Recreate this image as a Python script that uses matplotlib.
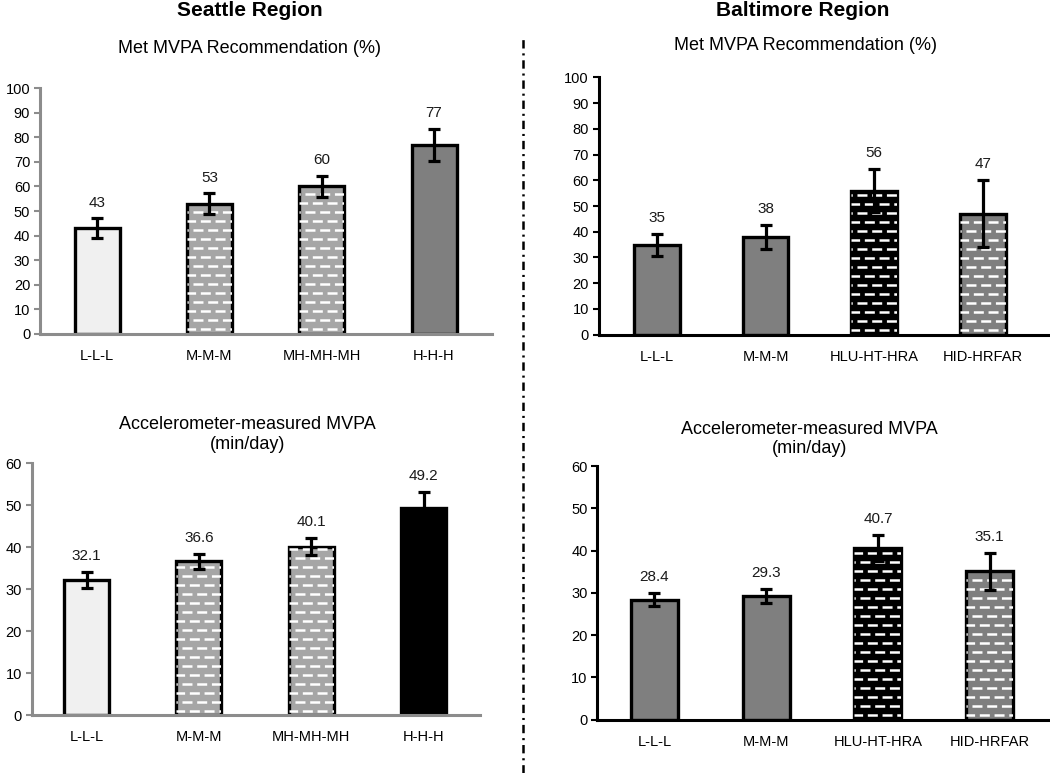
import matplotlib
matplotlib.use("Agg")
import matplotlib.pyplot as plt
import numpy as np

plt.rcParams['font.family'] = ['Liberation Sans', 'DejaVu Sans']
plt.rcParams['lines.scale_dashes'] = False

seattle_cats = ['L-L-L', 'M-M-M', 'MH-MH-MH', 'H-H-H']
balt_cats = ['L-L-L', 'M-M-M', 'HLU-HT-HRA', 'HID-HRFAR']

seattle_met = [43, 53, 60, 77]
seattle_met_err = [4, 4.2, 4.3, 6.5]
balt_met = [35, 38, 56, 47]
balt_met_err = [4.3, 4.7, 8.5, 13]

seattle_acc = [32.1, 36.6, 40.1, 49.2]
seattle_acc_err = [1.9, 1.8, 2.1, 4.0]
balt_acc = [28.4, 29.3, 40.7, 35.1]
balt_acc_err = [1.5, 1.6, 3.1, 4.4]

LIGHT, MID, DARK, BLACK = '#f0f0f0', '#a6a6a6', '#7f7f7f', '#000000'


def dashes(ax, bar, ymax):
    # brick-like white dash pattern clipped to the bar, rows ~9 px apart
    dy = 9.0 * ymax / ax.bbox.height
    x0, w = bar.get_x(), bar.get_width()
    h = bar.get_height()
    ys = np.arange(dy * 0.5, h, dy)
    for i, yy in enumerate(ys):
        off = 1.0 if i % 2 == 0 else 6.3
        ln, = ax.plot([x0, x0 + w], [yy, yy], color='white', lw=1.8,
                      linestyle=(off, (7.2, 3.4)), solid_capstyle='butt',
                      dash_capstyle='butt', zorder=3)
        ln.set_clip_path(bar)


def panel(rect, cats, vals, errs, fills, patterned, ymax, xlim, width,
          spine_col, value_fmt):
    ax = fig.add_axes(rect)
    x = np.arange(len(cats))
    bars = ax.bar(x, vals, width=width, color=fills, edgecolor='black',
                  linewidth=2.4, zorder=2)
    ax.set_xlim(*xlim)
    ax.set_ylim(0, ymax)
    for b, p in zip(bars, patterned):
        if p:
            dashes(ax, b, ymax)
    ax.errorbar(x, vals, yerr=errs, fmt='none', ecolor='black', elinewidth=2.3,
                capsize=4.5, capthick=2.3, zorder=4)
    for xi, v, e in zip(x, vals, errs):
        ax.text(xi, v + e + ymax * 0.035, value_fmt.format(v), ha='center',
                va='bottom', fontsize=11, color='#1a1a1a')
    ax.set_yticks(np.arange(0, ymax + 1, 10))
    ax.set_xticks(x)
    ax.set_xticklabels(cats, fontsize=10.5)
    ax.tick_params(axis='x', length=0, pad=11)
    ax.tick_params(axis='y', labelsize=10.5, length=4, width=1.5, color=spine_col,
                   pad=3)
    for s in ['top', 'right']:
        ax.spines[s].set_visible(False)
    for s in ['left', 'bottom']:
        ax.spines[s].set_color(spine_col)
        ax.spines[s].set_linewidth(2.2)
    return ax


fig = plt.figure(figsize=(10.5, 7.73), dpi=100)

panel([0.038, 0.568, 0.431, 0.318], seattle_cats, seattle_met, seattle_met_err,
      [LIGHT, MID, MID, DARK], [False, True, True, False], 100,
      (-0.51, 3.52), 0.40, '#8c8c8c', '{:g}')
panel([0.570, 0.567, 0.430, 0.333], balt_cats, balt_met, balt_met_err,
      [DARK, DARK, BLACK, DARK], [False, False, True, True], 100,
      (-0.54, 3.62), 0.42, 'black', '{:g}')
panel([0.030, 0.075, 0.427, 0.326], seattle_cats, seattle_acc, seattle_acc_err,
      [LIGHT, MID, MID, BLACK], [False, True, True, False], 60,
      (-0.49, 3.50), 0.40, '#8c8c8c', '{:.1f}')
panel([0.569, 0.069, 0.431, 0.328], balt_cats, balt_acc, balt_acc_err,
      [DARK, DARK, BLACK, DARK], [False, False, True, True], 60,
      (-0.51, 3.54), 0.42, 'black', '{:.1f}')

fig.text(0.238, 0.986, 'Seattle Region', ha='center', va='center',
         fontsize=15, fontweight='bold')
fig.text(0.764, 0.986, 'Baltimore Region', ha='center', va='center',
         fontsize=15, fontweight='bold')
fig.text(0.238, 0.937, 'Met MVPA Recommendation (%)', ha='center', va='center',
         fontsize=13)
fig.text(0.767, 0.941, 'Met MVPA Recommendation (%)', ha='center', va='center',
         fontsize=13)
fig.text(0.236, 0.438, 'Accelerometer-measured MVPA\n(min/day)', ha='center',
         va='center', fontsize=13, linespacing=1.2)
fig.text(0.771, 0.432, 'Accelerometer-measured MVPA\n(min/day)', ha='center',
         va='center', fontsize=13, linespacing=1.2)

fig.add_artist(plt.Line2D([0.498, 0.498], [0.0, 0.955], color='black', lw=1.8,
                          linestyle=(0, (6, 3.5, 1.5, 3.5)),
                          transform=fig.transFigure))

fig.savefig('out.png', dpi=100, facecolor='white')
